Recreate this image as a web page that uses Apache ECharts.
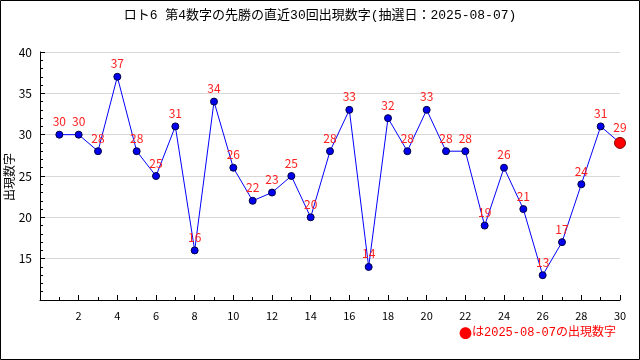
<!DOCTYPE html>
<html><head><meta charset="utf-8">
<script src="https://cdn.jsdelivr.net/npm/echarts@6/dist/echarts.min.js"></script>
<style>html,body{margin:0;padding:0;background:#fff}#c{width:640px;height:360px}</style>
</head><body><div id="c"></div>
<script>
const draws = [1,2,3,4,5,6,7,8,9,10,11,12,13,14,15,16,17,18,19,20,21,22,23,24,25,26,27,28,29,30];
const numbers = [30,30,28,37,28,25,31,16,34,26,22,23,25,20,28,33,14,32,28,33,28,28,19,26,21,13,17,24,31,29];
const titleText = 'ロト6 第4数字の先勝の直近30回出現数字(抽選日：2025-08-07)';
const noteMark = '●';
const noteText = 'は2025-08-07の出現数字';
const yName = '出現数字';

const chart = echarts.init(document.getElementById('c'), null, {renderer:'canvas'});
const font = '"Noto Sans CJK JP", sans-serif';
const mono = '"Liberation Mono", "Noto Sans CJK JP", monospace';
const data = draws.map((d,i)=>{
  const item = {value:[d, numbers[i]]};
  if (i === draws.length-1) {
    item.symbolSize = 11;
    item.itemStyle = {color:'#ff0000', borderColor:'#800000', borderWidth:1};
  }
  return item;
});
chart.setOption({
  animation:false,
  title:{text:titleText, left:'center', top:4, textStyle:{fontSize:13, fontWeight:'normal', color:'#000', fontFamily:mono}},
  graphic:[
    {type:'rect', shape:{x:0.5, y:0.5, width:639, height:359}, style:{fill:'none', stroke:'#000', lineWidth:1}, silent:true},
    {type:'text', x:616, y:333, style:{text:'{m|'+noteMark+'}{t|'+noteText+'}', align:'right', verticalAlign:'middle',
      rich:{m:{fill:'#ff0000', fontSize:13, fontFamily:'"Noto Sans CJK JP", sans-serif'}, t:{fill:'#ff0000', fontSize:12, fontFamily:mono}}}},
    {type:'text', x:9, y:177, rotation:Math.PI/2, style:{text:yName, fill:'#000', font:'12px '+font, align:'center', verticalAlign:'middle'}}
  ],
  grid:{left:40, right:20, top:52, bottom:60},
  xAxis:{type:'value', min:0, max:30, interval:2,
    axisLine:{show:true, lineStyle:{color:'#000'}},
    axisTick:{show:true, inside:true, length:5, lineStyle:{color:'#000'}},
    minorTick:{show:true, splitNumber:2, length:3, lineStyle:{color:'#000'}},
    splitLine:{show:false},
    axisLabel:{color:'#000', fontSize:11, fontFamily:font, margin:10, formatter:v=> v===0?'':String(v)}
  },
  yAxis:{type:'value', min:10, max:40, interval:5,
    axisLine:{show:true, lineStyle:{color:'#000'}},
    axisTick:{show:true, inside:true, length:5, lineStyle:{color:'#000'}},
    minorTick:{show:true, splitNumber:5, length:3, lineStyle:{color:'#000'}},
    splitLine:{show:true, lineStyle:{color:'#d8d8d8'}},
    axisLabel:{color:'#000', fontSize:12, fontFamily:font, margin:8, formatter:v=> v===10?'':String(v)}
  },
  series:[{type:'line', data:data, symbol:'circle', symbolSize:7,
    lineStyle:{color:'#0000ff', width:1},
    itemStyle:{color:'#0000ee', borderColor:'#000044', borderWidth:1},
    label:{show:true, position:'top', distance:3, color:'#ff2020', fontSize:12, fontFamily:font}
  }]
});
</script></body></html>
